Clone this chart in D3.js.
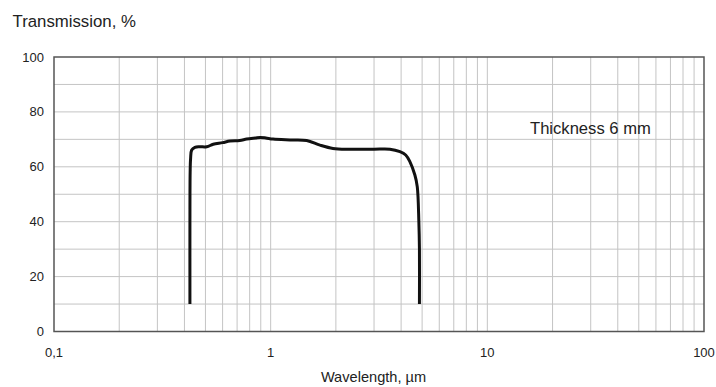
<!DOCTYPE html>
<html>
<head>
<meta charset="utf-8">
<script src="https://cdn.jsdelivr.net/npm/d3@7"></script>
<style>
  body { margin: 0; background: #fff; }
  text { font-family: "Liberation Sans", Arial, sans-serif; fill: #222; }
</style>
</head>
<body>
<svg width="716" height="387"></svg>
<script>
// wavelength (um) and transmission (%)
var wavelength = [0.424, 0.424, 0.425, 0.427, 0.432, 0.447, 0.47, 0.507, 0.543, 0.6, 0.649, 0.72, 0.775, 0.85, 0.893, 0.95, 1.025, 1.228, 1.466, 1.689, 1.939, 2.32, 3.0, 3.55, 3.95, 4.2, 4.39, 4.63, 4.75, 4.83, 4.86, 4.86];
var transmission = [10, 40, 58, 63, 66.1, 67.1, 67.3, 67.3, 68.2, 68.8, 69.4, 69.6, 70.1, 70.5, 70.7, 70.5, 70.1, 69.8, 69.6, 67.9, 66.7, 66.4, 66.4, 66.4, 65.5, 64.3, 61.9, 57, 52.7, 40, 30, 10];

var xTicks = [0.1, 1, 10, 100];
var xTickLabels = ['0,1', '1', '10', '100'];
var yTicks = [0, 20, 40, 60, 80, 100];

var titleText = 'Transmission, %';
var xTitleText = 'Wavelength, \u00b5m';
var noteText = 'Thickness 6 mm';

var margin = {left: 54, right: 12, top: 57, bottom: 55.5};
var width = 716 - margin.left - margin.right;
var height = 387 - margin.top - margin.bottom;

var svg = d3.select('svg');
var g = svg.append('g').attr('transform', `translate(${margin.left},${margin.top})`);

var x = d3.scaleLog().domain([0.1, 100]).range([0, width]);
var y = d3.scaleLinear().domain([0, 100]).range([height, 0]);

// minor log grid
var xGrid = [];
[0.1, 1, 10].forEach(function(dec) {
  for (var k = 2; k <= 10; k++) xGrid.push(dec * k);
});
xGrid.pop();

g.append('g').selectAll('line')
  .data(xGrid).enter().append('line')
  .attr('x1', d => x(d)).attr('x2', d => x(d))
  .attr('y1', 0).attr('y2', height)
  .attr('stroke', '#c4c4c4').attr('stroke-width', 1);

g.append('g').selectAll('line')
  .data(d3.range(10, 100, 10)).enter().append('line')
  .attr('x1', 0).attr('x2', width)
  .attr('y1', d => y(d)).attr('y2', d => y(d))
  .attr('stroke', '#c4c4c4').attr('stroke-width', 1);

g.append('rect')
  .attr('width', width).attr('height', height)
  .attr('fill', 'none').attr('stroke', '#555').attr('stroke-width', 1.5);

// axes labels
g.append('g').selectAll('text')
  .data(yTicks).enter().append('text')
  .attr('x', -10).attr('y', d => y(d)).attr('dy', '0.35em')
  .attr('text-anchor', 'end').attr('font-size', 13)
  .text(d => d);

g.append('g').selectAll('text')
  .data(xTicks).enter().append('text')
  .attr('x', d => x(d)).attr('y', height + 25)
  .attr('text-anchor', 'middle').attr('font-size', 13)
  .text((d, i) => xTickLabels[i]);

svg.append('text')
  .attr('x', 12.5).attr('y', 27).attr('font-size', 16.8)
  .text(titleText);

svg.append('text')
  .attr('x', 373.5).attr('y', 382).attr('text-anchor', 'middle').attr('font-size', 14.6)
  .text(xTitleText);

svg.append('text')
  .attr('x', 530).attr('y', 134).attr('font-size', 16.6)
  .text(noteText);

var line = d3.line()
  .x(d => x(d[0]))
  .y(d => y(d[1]))
  .curve(d3.curveCatmullRom.alpha(0.5));

g.append('path')
  .datum(d3.zip(wavelength, transmission))
  .attr('d', line)
  .attr('fill', 'none')
  .attr('stroke', '#111')
  .attr('stroke-width', 3)
  .attr('stroke-linejoin', 'round');
</script>
</body>
</html>
